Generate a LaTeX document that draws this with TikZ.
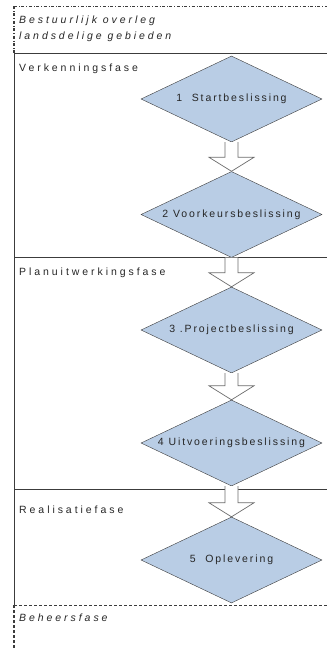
\documentclass[tikz,border=0pt]{standalone}
\usepackage{fontspec}
\setmainfont{Liberation Sans}
\newfontfamily\fasefont[LetterSpace=28]{Liberation Sans}
\newfontfamily\stapfont[LetterSpace=18]{Liberation Sans}
\usetikzlibrary{calc,shapes.geometric}
\definecolor{stapblauw}{HTML}{B9CDE5}
\definecolor{lijngrijs}{HTML}{3C3C3C}

\newcommand\blokpijl[2]{%
  \draw[pijl] let \p1=(#1.south), \p2=(#2.north) in
    (\x1-6.5pt,\y1) -- (\x1-6.5pt,\y2+14pt) -- (\x1-22.5pt,\y2+14pt)
    -- (\x1,\y2) -- (\x1+22.5pt,\y2+14pt) -- (\x1+6.5pt,\y2+14pt)
    -- (\x1+6.5pt,\y1);}

\begin{document}
\begin{tikzpicture}[x=1pt,y=-1pt,
    beslissing/.style={diamond,aspect=2.1,draw=lijngrijs,fill=stapblauw,
      minimum width=181pt,minimum height=86pt,inner sep=0pt,
      text=black!85,font=\stapfont\fontsize{10.5}{12}\selectfont},
    fase/.style={anchor=west,inner sep=0pt,text=black!85,
      font=\fasefont\fontsize{10.5}{12}\selectfont},
    cursief/.style={fase,font=\fasefont\itshape\fontsize{10.5}{12}\selectfont},
    pijl/.style={draw=gray!85!black,fill=white,line width=0.7pt}]
    \useasboundingbox (0,0) rectangle (327,648);
    \draw[lijngrijs,dash dot,thick] (14,6)--(327,6);
    \draw[lijngrijs,dash dot,line width=1.4pt] (14,6)--(14,53);
    \draw[lijngrijs,line width=0.9pt] (14,53)--(327,53);
    \draw[lijngrijs,line width=0.8pt] (14,53)--(14,605);
    \draw[lijngrijs,line width=0.8pt] (14,257)--(327,257);
    \draw[lijngrijs,line width=0.8pt] (14,489)--(327,489);
    \draw[lijngrijs,densely dashed,thick] (14,605)--(327,605);
    \draw[lijngrijs,densely dashed,line width=1.4pt] (14,605)--(14,648);
    \node[cursief] (overleg) at (19,21) {Bestuurlijk overleg};
    \node[cursief] (gebieden) at (19,37) {landsdelige gebieden};
    \node[fase] (verkenning) at (19,69) {Verkenningsfase};
    \node[fase] (planuitwerking) at (19,273) {Planuitwerkingsfase};
    \node[fase] (realisatie) at (19,510) {Realisatiefase};
    \node[cursief] (beheer) at (19,618) {Beheersfase};
    \node[beslissing] (start) at (231.5,99) {1\ \ Startbeslissing};
    \node[beslissing] (voorkeur) at (231.5,214.5) {2 Voorkeursbeslissing};
    \node[beslissing] (project) at (231.5,330) {3 .Projectbeslissing};
    \node[beslissing] (uitvoering) at (231.5,443) {4\ Uitvoeringsbeslissing};
    \node[beslissing] (oplevering) at (231.5,560) {5\ \ Oplevering};
    \blokpijl{start}{voorkeur}
    \blokpijl{voorkeur}{project}
    \blokpijl{project}{uitvoering}
    \blokpijl{uitvoering}{oplevering}
  \end{tikzpicture}
\end{document}
